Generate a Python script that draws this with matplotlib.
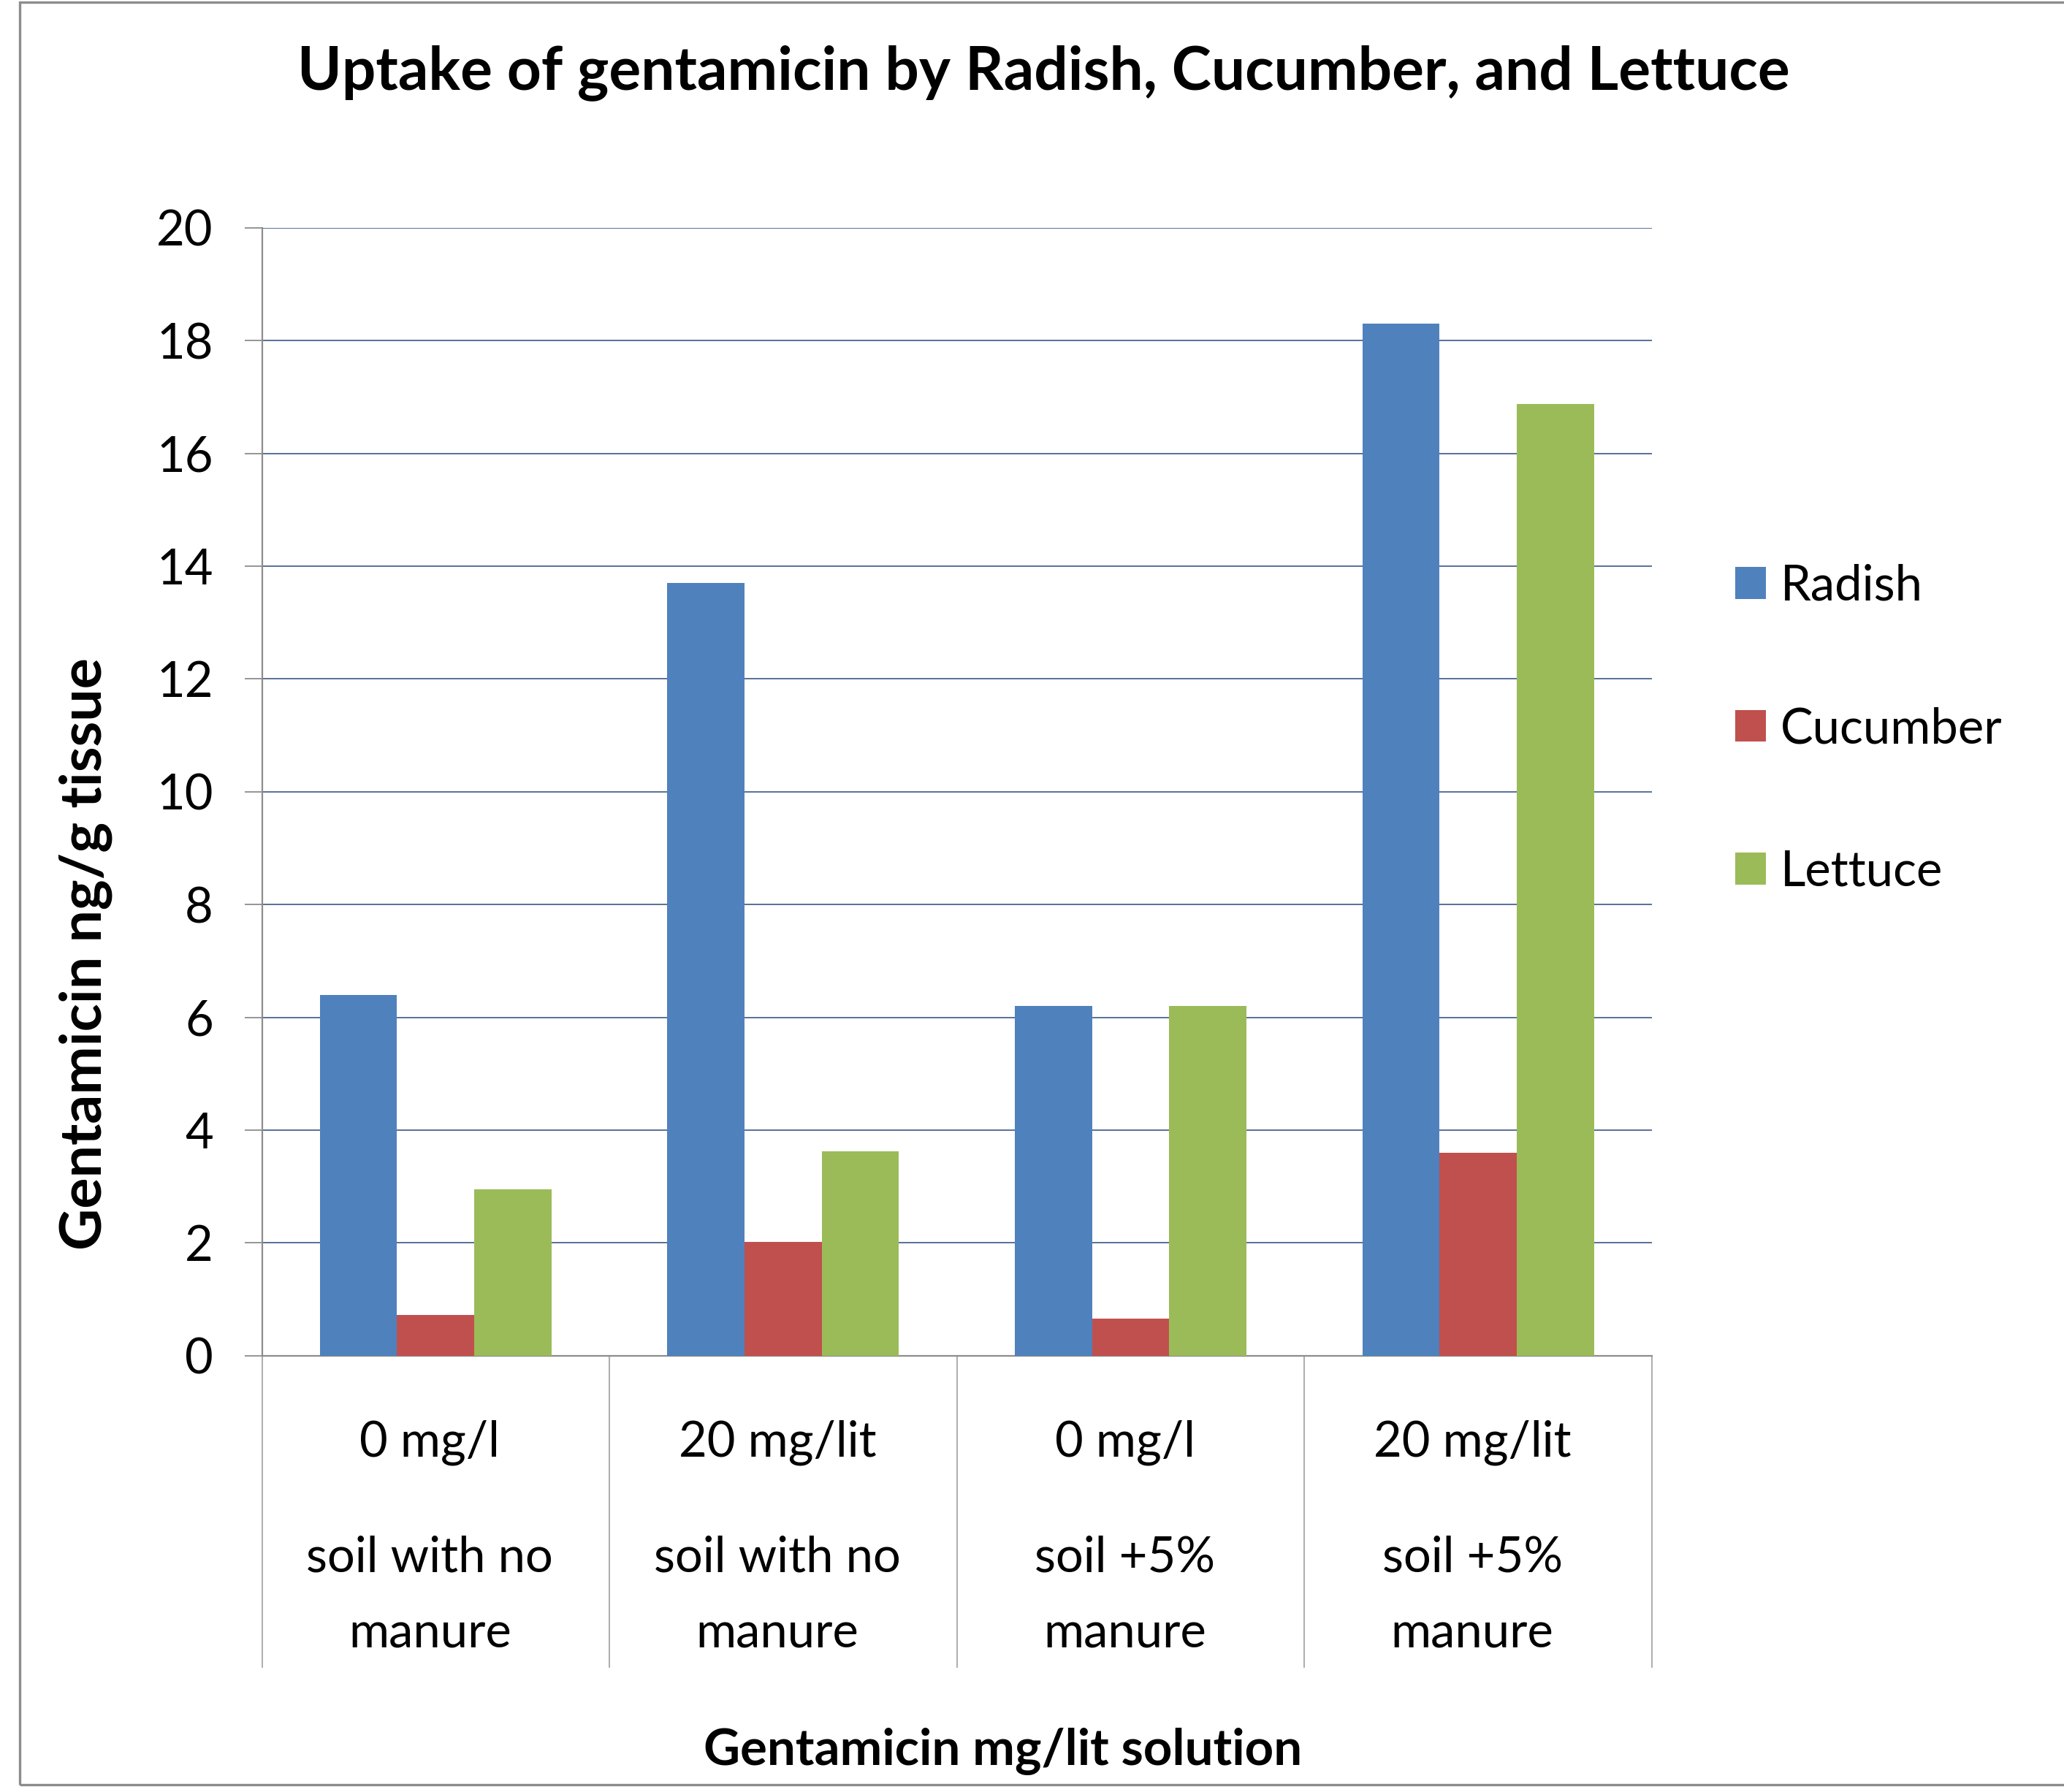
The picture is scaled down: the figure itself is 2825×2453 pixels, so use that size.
import matplotlib
matplotlib.use("Agg")
import matplotlib.pyplot as plt
from matplotlib import font_manager
from matplotlib.patches import Rectangle
from matplotlib.transforms import blended_transform_factory, offset_copy
import numpy as np

# ---------------- data ----------------
conc_labels = ["0 mg/l", "20 mg/lit", "0 mg/l", "20 mg/lit"]
soil_line1 = ["soil with no", "soil with no", "soil +5%", "soil +5%"]
soil_line2 = ["manure", "manure", "manure", "manure"]
series_names = ["Radish", "Cucumber", "Lettuce"]
radish = [6.4, 13.7, 6.2, 18.3]
cucumber = [0.72, 2.02, 0.66, 3.6]
lettuce = [2.95, 3.62, 6.2, 16.88]
y_ticks = [0, 2, 4, 6, 8, 10, 12, 14, 16, 18, 20]
title = "Uptake of gentamicin by Radish, Cucumber, and Lettuce"
x_title = "Gentamicin mg/lit solution"
y_title = "Gentamicin ng/g tissue"
colors = ["#4F81BD", "#C0504D", "#9BBB59"]

# ---------------- fonts ----------------
names = {f.name for f in font_manager.fontManager.ttflist}
FONT = "Liberation Sans Narrow" if "Liberation Sans Narrow" in names else "Lato"
plt.rcParams["font.family"] = [FONT, "DejaVu Sans"]

W, H = 2825, 2453
DPI = 100
fig = plt.figure(figsize=(W / DPI, H / DPI), dpi=DPI)
fig.patch.set_facecolor("white")


def fx(px):
    return px / W


def fy(py):
    return 1 - py / H


def size_for(s, target, weight="normal", fs0=40.0):
    t = fig.text(0, 0, s, fontsize=fs0, fontweight=weight)
    r = fig.canvas.get_renderer()
    w = t.get_window_extent(r).width
    t.remove()
    return fs0 * target / w


TICK = np.mean([size_for("soil with no", 344), size_for("20 mg/lit", 270),
                size_for("Cucumber", 305), size_for("Radish", 190)])
TITLE = size_for(title, 2039, "bold")
XT = size_for(x_title, 820, "bold")
YT = size_for(y_title, 811, "bold")

# ---------------- axes ----------------
left, right, top, bottom = 358.5, 2261, 311.7, 1855.7
ax = fig.add_axes([fx(left), fy(bottom), (right - left) / W, (bottom - top) / H])

x = np.arange(len(conc_labels))
bw = 1 / 4.5
for i, (vals, name, c) in enumerate(zip([radish, cucumber, lettuce], series_names, colors)):
    ax.bar(x + (i - 1) * bw, vals, width=bw, color=c, label=name, zorder=3)

ax.set_xlim(-0.5, len(conc_labels) - 0.5)
ax.set_ylim(0, 20)
ax.set_yticks(y_ticks)
ax.set_yticklabels([str(v) for v in y_ticks], fontsize=TICK)
ax.set_xticks([])
ax.yaxis.grid(True, color="#4a6590", linewidth=1.3)
ax.set_axisbelow(True)
for s in ["top", "right"]:
    ax.spines[s].set_visible(False)
for s in ["left", "bottom"]:
    ax.spines[s].set_color("#8c8c8c")
    ax.spines[s].set_linewidth(1.6)
ax.tick_params(axis="y", length=17, width=1.3, color="#8c8c8c", pad=31, direction="out")

# category separators spanning label area
sep_bottom = 2282
btr = blended_transform_factory(ax.transData, fig.transFigure)
for b in np.arange(len(conc_labels) + 1) - 0.5:
    ax.plot([b, b], [fy(bottom), fy(sep_bottom)], transform=btr, color="#a6a6a6",
            linewidth=1.3, clip_on=False, zorder=1)

# category labels (slightly left of centre, as in the reference)
ltr = offset_copy(btr, fig=fig, x=-8, y=0, units="dots")
for xi, a, b1, b2 in zip(x, conc_labels, soil_line1, soil_line2):
    ax.text(xi, fy(1993), a, transform=ltr, ha="center", va="baseline", fontsize=TICK)
    ax.text(xi, fy(2152), b1, transform=ltr, ha="center", va="baseline", fontsize=TICK)
    ax.text(xi, fy(2256), b2, transform=ltr, ha="center", va="baseline", fontsize=TICK)

# titles
fig.text(fx(1428), fy(122), title, ha="center", va="baseline", fontsize=TITLE, fontweight="bold")
fig.text(fx(1373), fy(2416), x_title, ha="center", va="baseline", fontsize=XT, fontweight="bold")
fig.text(fx(117), fy(1306), y_title, ha="center", va="center", rotation=90,
         fontsize=YT, fontweight="bold")

# legend
fs_px = TICK * DPI / 72
sq = 42
leg = ax.legend(loc="center left", bbox_to_anchor=(fx(2375), fy(998)),
                bbox_transform=fig.transFigure, frameon=False, fontsize=TICK,
                handlelength=sq / fs_px, handleheight=sq / fs_px,
                handletextpad=0.3, labelspacing=(212 - 1.17 * fs_px) / fs_px,
                borderpad=0, borderaxespad=0)

# outer border
fig.patches.append(Rectangle((fx(27), fy(2443)), 2.0, fy(3) - fy(2443),
                             transform=fig.transFigure, fill=False,
                             edgecolor="#8c8c8c", linewidth=2.4))

fig.savefig("out.png", dpi=DPI, facecolor="white")
